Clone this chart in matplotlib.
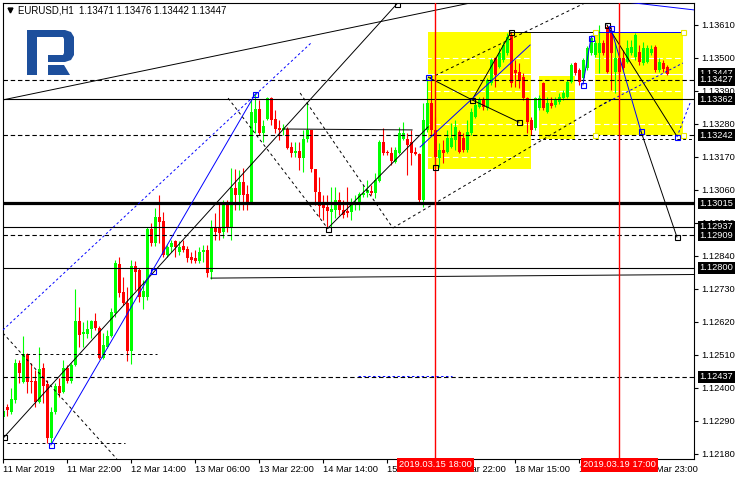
import matplotlib
matplotlib.use('Agg')
import matplotlib.pyplot as plt
import matplotlib.transforms as mtransforms
from matplotlib.patches import Rectangle, Polygon
import numpy as np

plt.rcParams['font.family'] = ['Liberation Sans', 'DejaVu Sans']
plt.rcParams['font.size'] = 6.7

# EURUSD H1 candles, bar 0 = 11 Mar 2019
opens = [1.12303, 1.12336, 1.12320, 1.12360, 1.12483, 1.12420, 1.12513, 1.12423, 1.12423, 1.12353,
         1.12466, 1.12413, 1.12233, 1.12320, 1.12406, 1.12386, 1.12466, 1.12423, 1.12476, 1.12623,
         1.12580, 1.12580, 1.12596, 1.12623, 1.12600, 1.12500, 1.12536, 1.12573, 1.12650, 1.12813,
         1.12720, 1.12683, 1.12523, 1.12806, 1.12793, 1.12703, 1.12703, 1.12930, 1.12883, 1.12970,
         1.12956, 1.12843, 1.12870, 1.12890, 1.12853, 1.12873, 1.12863, 1.12836, 1.12833, 1.12823,
         1.12853, 1.12860, 1.12786, 1.12936, 1.12936, 1.12920, 1.13016, 1.12933, 1.13066, 1.13043,
         1.13086, 1.13046, 1.13020, 1.13283, 1.13330, 1.13250, 1.13296, 1.13366, 1.13296, 1.13266,
         1.13260, 1.13263, 1.13203, 1.13183, 1.13190, 1.13166, 1.13230, 1.13260, 1.13130, 1.13053,
         1.13010, 1.13003, 1.12986, 1.12993, 1.13026, 1.12993, 1.12990, 1.12986, 1.13013, 1.13010,
         1.13043, 1.13050, 1.13056, 1.13050, 1.13090, 1.13220, 1.13186, 1.13183, 1.13153, 1.13183,
         1.13230, 1.13230, 1.13220, 1.13186, 1.13180, 1.13026, 1.13260, 1.13350, 1.13260, 1.13166,
         1.13193, 1.13186, 1.13203, 1.13226, 1.13253, 1.13233, 1.13193, 1.13250, 1.13303, 1.13336,
         1.13360, 1.13333, 1.13416, 1.13500, 1.13470, 1.13493, 1.13516, 1.13576, 1.13460, 1.13453,
         1.13436, 1.13366, 1.13293, 1.13266, 1.13333, 1.13416, 1.13320, 1.13350, 1.13343, 1.13353,
         1.13366, 1.13370, 1.13420, 1.13483, 1.13460, 1.13433, 1.13466, 1.13516, 1.13510, 1.13516,
         1.13550, 1.13603, 1.13583, 1.13453, 1.13500, 1.13500, 1.13486, 1.13516, 1.13503, 1.13520,
         1.13483, 1.13486, 1.13516, 1.13536, 1.13460, 1.13483, 1.13471]
highs = [1.12330, 1.12346, 1.12400, 1.12496, 1.12493, 1.12573, 1.12516, 1.12483, 1.12460, 1.12536,
         1.12483, 1.12426, 1.12336, 1.12416, 1.12433, 1.12493, 1.12476, 1.12483, 1.12730, 1.12670,
         1.12620, 1.12626, 1.12626, 1.12650, 1.12606, 1.12583, 1.12593, 1.12666, 1.12826, 1.12836,
         1.12770, 1.12736, 1.12826, 1.12823, 1.12800, 1.12760, 1.12936, 1.12950, 1.13000, 1.13043,
         1.12986, 1.12876, 1.12893, 1.12893, 1.12890, 1.12893, 1.12873, 1.12853, 1.12860, 1.12870,
         1.12876, 1.12876, 1.12960, 1.12983, 1.13016, 1.13026, 1.13026, 1.13133, 1.13130, 1.13126,
         1.13133, 1.13076, 1.13360, 1.13383, 1.13360, 1.13293, 1.13370, 1.13370, 1.13326, 1.13293,
         1.13280, 1.13270, 1.13220, 1.13220, 1.13220, 1.13260, 1.13353, 1.13260, 1.13130, 1.13103,
         1.13043, 1.13043, 1.13070, 1.13070, 1.13053, 1.13026, 1.13070, 1.13033, 1.13043, 1.13053,
         1.13076, 1.13093, 1.13076, 1.13116, 1.13226, 1.13266, 1.13193, 1.13203, 1.13203, 1.13270,
         1.13286, 1.13250, 1.13260, 1.13203, 1.13183, 1.13350, 1.13433, 1.13426, 1.13303, 1.13216,
         1.13226, 1.13260, 1.13283, 1.13293, 1.13260, 1.13250, 1.13293, 1.13333, 1.13360, 1.13370,
         1.13370, 1.13433, 1.13500, 1.13503, 1.13533, 1.13553, 1.13583, 1.13586, 1.13493, 1.13483,
         1.13450, 1.13370, 1.13303, 1.13370, 1.13376, 1.13420, 1.13370, 1.13370, 1.13370, 1.13383,
         1.13393, 1.13426, 1.13483, 1.13486, 1.13466, 1.13500, 1.13540, 1.13576, 1.13560, 1.13610,
         1.13560, 1.13610, 1.13603, 1.13550, 1.13526, 1.13526, 1.13560, 1.13560, 1.13583, 1.13543,
         1.13553, 1.13543, 1.13543, 1.13543, 1.13500, 1.13493, 1.13476]
lows = [1.12296, 1.12306, 1.12313, 1.12350, 1.12416, 1.12416, 1.12383, 1.12383, 1.12336, 1.12350,
        1.12350, 1.12216, 1.12216, 1.12313, 1.12370, 1.12383, 1.12416, 1.12416, 1.12473, 1.12536,
        1.12536, 1.12566, 1.12566, 1.12593, 1.12496, 1.12496, 1.12533, 1.12570, 1.12636, 1.12703,
        1.12676, 1.12490, 1.12480, 1.12726, 1.12686, 1.12663, 1.12693, 1.12873, 1.12873, 1.12883,
        1.12836, 1.12836, 1.12853, 1.12836, 1.12843, 1.12853, 1.12820, 1.12816, 1.12816, 1.12816,
        1.12820, 1.12770, 1.12763, 1.12893, 1.12893, 1.12900, 1.12920, 1.12893, 1.12993, 1.12993,
        1.12993, 1.12993, 1.13013, 1.13250, 1.13243, 1.13220, 1.13293, 1.13276, 1.13250, 1.13226,
        1.13243, 1.13196, 1.13170, 1.13170, 1.13126, 1.13120, 1.13220, 1.13120, 1.13010, 1.12970,
        1.12960, 1.12936, 1.12936, 1.12966, 1.12976, 1.12966, 1.12970, 1.12960, 1.12993, 1.12993,
        1.13036, 1.13036, 1.13043, 1.13033, 1.13086, 1.13176, 1.13176, 1.13143, 1.13150, 1.13180,
        1.13226, 1.13110, 1.13143, 1.13176, 1.13016, 1.13003, 1.13253, 1.13243, 1.13136, 1.13136,
        1.13150, 1.13183, 1.13200, 1.13193, 1.13183, 1.13186, 1.13186, 1.13243, 1.13300, 1.13333,
        1.13326, 1.13326, 1.13410, 1.13403, 1.13466, 1.13486, 1.13510, 1.13403, 1.13403, 1.13400,
        1.13360, 1.13250, 1.13243, 1.13260, 1.13326, 1.13326, 1.13316, 1.13333, 1.13336, 1.13346,
        1.13360, 1.13366, 1.13416, 1.13443, 1.13410, 1.13426, 1.13460, 1.13510, 1.13503, 1.13450,
        1.13510, 1.13450, 1.13393, 1.13383, 1.13426, 1.13460, 1.13483, 1.13510, 1.13493, 1.13476,
        1.13476, 1.13483, 1.13510, 1.13453, 1.13453, 1.13453, 1.13442]
closes = [1.12323, 1.12326, 1.12363, 1.12483, 1.12450, 1.12513, 1.12420, 1.12420, 1.12353, 1.12463,
          1.12406, 1.12233, 1.12320, 1.12406, 1.12383, 1.12466, 1.12423, 1.12476, 1.12623, 1.12576,
          1.12586, 1.12596, 1.12623, 1.12600, 1.12500, 1.12543, 1.12573, 1.12653, 1.12816, 1.12716,
          1.12683, 1.12523, 1.12806, 1.12786, 1.12703, 1.12723, 1.12930, 1.12883, 1.12970, 1.12953,
          1.12843, 1.12870, 1.12883, 1.12870, 1.12870, 1.12860, 1.12833, 1.12826, 1.12823, 1.12853,
          1.12860, 1.12783, 1.12933, 1.12920, 1.12916, 1.13016, 1.12933, 1.13066, 1.13043, 1.13086,
          1.13043, 1.13020, 1.13320, 1.13330, 1.13250, 1.13273, 1.13366, 1.13293, 1.13263, 1.13260,
          1.13266, 1.13200, 1.13183, 1.13190, 1.13166, 1.13230, 1.13260, 1.13130, 1.13053, 1.13006,
          1.13000, 1.12990, 1.12996, 1.13026, 1.12993, 1.12976, 1.12983, 1.13016, 1.13020, 1.13046,
          1.13050, 1.13060, 1.13050, 1.13093, 1.13220, 1.13183, 1.13183, 1.13156, 1.13193, 1.13250,
          1.13250, 1.13210, 1.13183, 1.13180, 1.13026, 1.13293, 1.13350, 1.13260, 1.13170, 1.13193,
          1.13183, 1.13233, 1.13233, 1.13270, 1.13186, 1.13193, 1.13253, 1.13320, 1.13343, 1.13360,
          1.13336, 1.13426, 1.13493, 1.13443, 1.13516, 1.13543, 1.13570, 1.13416, 1.13450, 1.13426,
          1.13366, 1.13286, 1.13260, 1.13366, 1.13366, 1.13333, 1.13350, 1.13340, 1.13360, 1.13370,
          1.13383, 1.13420, 1.13476, 1.13450, 1.13420, 1.13493, 1.13533, 1.13566, 1.13550, 1.13550,
          1.13516, 1.13453, 1.13516, 1.13500, 1.13453, 1.13466, 1.13533, 1.13536, 1.13576, 1.13486,
          1.13533, 1.13533, 1.13530, 1.13460, 1.13486, 1.13463, 1.13447]

xtick_bars = [0, 16, 32, 48, 64, 80, 96, 112, 128, 144, 160]
xtick_labels = ["11 Mar 2019", "11 Mar 22:00", "12 Mar 14:00", "13 Mar 06:00", "13 Mar 22:00",
                "14 Mar 14:00", "15 Mar 06:00", "15 Mar 22:00", "18 Mar 15:00", "19 Mar 07:00",
                "19 Mar 23:00"]
ytick_prices = [1.13610, 1.13500, 1.13390, 1.13280, 1.13170, 1.13060, 1.12950,
                1.12840, 1.12730, 1.12620, 1.12510, 1.12400, 1.12290, 1.12180]

# horizontal levels
solid_levels = [1.13362, 1.12937, 1.12800]
dashed_levels = [1.13427, 1.13242, 1.12909, 1.12437]
thick_level = 1.13015
bid_price = 1.13447
price_tags = [1.13447, 1.13427, 1.13362, 1.13242, 1.13015, 1.12937, 1.12909, 1.12800, 1.12437]

# vertical markers
vline_bars = [108, 154]
vline_labels = ["2019.03.15 18:00", "2019.03.19 17:00"]

# yellow zones: bar from, bar to, price top, price bottom
zone_x0 = [106.2, 133.9, 147.9]
zone_x1 = [131.9, 142.9, 169.9]
zone_top = [1.13586, 1.13440, 1.13586]
zone_bot = [1.13130, 1.13230, 1.13243]

# drawn objects: (bars, prices)
solid_black = [([-0.1, 116.7], [1.13360, 1.13683]),
               ([0.2, 98.4], [1.12236, 1.13680]),
               ([81.2, 106.2], [1.12933, 1.13270]),
               ([106.2, 117.2, 128.9], [1.13436, 1.13360, 1.13286]),
               ([117.2, 126.9], [1.13360, 1.13586]),
               ([126.9, 147.9], [1.13586, 1.13586]),
               ([150.9, 168.2], [1.13610, 1.13243]),
               ([159.4, 168.4], [1.13256, 1.12903]),
               ([70.4, 102.2], [1.13263, 1.13260]),
               ([51.9, 172.7], [1.12766, 1.12778])]
solid_blue = [([11.9, 63.0], [1.12210, 1.13380]),
              ([104.2, 131.7], [1.13203, 1.13543]),
              ([144.9, 146.9, 148.2], [1.13410, 1.13566, 1.13586]),
              ([151.9, 159.4], [1.13600, 1.13256]),
              ([147.9, 169.9], [1.13586, 1.13586]),
              ([155.9, 172.7], [1.13686, 1.13660])]
dashed_blue = [([-0.1, 77.2], [1.12593, 1.13553]),
               ([149.2, 169.9], [1.13340, 1.13483]),
               ([168.4, 171.7], [1.13236, 1.13350]),
               ([88.7, 112.2], [1.12440, 1.12440])]
dashed_black = [([-0.1, 28.4], [1.12583, 1.12163]),
                ([56.2, 81.2], [1.13366, 1.12930]),
                ([74.2, 97.4], [1.13383, 1.12933]),
                ([97.4, 151.7], [1.12933, 1.13360]),
                ([106.7, 145.4], [1.13433, 1.13683]),
                ([2.9, 38.4], [1.12513, 1.12513]),
                ([0.9, 30.4], [1.12216, 1.12216]),
                ([131.9, 172.7], [1.13230, 1.13230])]
black_points_x = [0.2, 81.2, 98.4, 107.9, 117.2, 128.9, 126.9, 150.9, 168.4]
black_points_y = [1.12236, 1.12930, 1.13680, 1.13136, 1.13360, 1.13286, 1.13586, 1.13610, 1.12903]
blue_points_x = [11.9, 37.5, 63.0, 106.2, 144.9, 146.9, 151.9, 159.4, 168.4]
blue_points_y = [1.12210, 1.12790, 1.13380, 1.13436, 1.13410, 1.13566, 1.13600, 1.13256, 1.13236]
yellow_points_x = [147.9, 169.9, 147.9, 169.9]
yellow_points_y = [1.13586, 1.13586, 1.13243, 1.13243]

fig = plt.figure(figsize=(7.4, 4.8), dpi=100)
ax = fig.add_axes([2.5 / 740, 21.5 / 480, 691.5 / 740, 456 / 480])
ax.set_xlim(-0.2, 172.675)
ax.set_ylim(1.121647, 1.136847)

for x0, x1, top, bot in zip(zone_x0, zone_x1, zone_top, zone_bot):
    ax.add_patch(Rectangle((x0, bot), x1 - x0, top - bot, fc='#ffff00', ec='none', zorder=0.5))

ax.hlines(ytick_prices, -1, 175, colors='white', linestyles=(0, (5, 3)), lw=0.8, zorder=0.8)
ax.axhline(bid_price, color='white', lw=0.8, zorder=0.9)

x = np.arange(len(opens))
o = np.array(opens)
h = np.array(highs)
l = np.array(lows)
c = np.array(closes)
col = np.where(c >= o, '#00ff00', '#ff0000')
ax.vlines(x, l, h, colors=col, lw=0.8, zorder=2)
ax.bar(x, np.maximum(np.abs(c - o), 0.00003), bottom=np.minimum(o, c), width=0.72,
       color=col, lw=0, zorder=2.1)

for lvl in solid_levels:
    ax.axhline(lvl, color='black', lw=0.8, zorder=3)
for lvl in dashed_levels:
    ax.axhline(lvl, color='black', lw=0.8, ls=(0, (4, 2.5)), zorder=3)
ax.axhline(thick_level, color='black', lw=2.3, zorder=3)

for xs, ys in solid_black:
    ax.plot(xs, ys, color='black', lw=0.7, zorder=3)
for xs, ys in solid_blue:
    ax.plot(xs, ys, color='#0000ff', lw=0.7, zorder=3)
for xs, ys in dashed_blue:
    ax.plot(xs, ys, color='#0000ff', lw=0.7, ls=(0, (2.5, 2.5)), zorder=3)
for xs, ys in dashed_black:
    ax.plot(xs, ys, color='black', lw=0.7, ls=(0, (3, 3)), zorder=3)

ax.plot(black_points_x, black_points_y, 's', ms=3.6, mfc='none', mec='black', mew=0.8, zorder=4)
ax.plot(blue_points_x, blue_points_y, 's', ms=3.6, mfc='none', mec='#0000ff', mew=0.8, zorder=4)
ax.plot(yellow_points_x, yellow_points_y, 's', ms=3.6, mfc='white', mec='#e8e800', mew=0.8, zorder=4)

for b in vline_bars:
    ax.axvline(b, color='#ff0000', lw=1.0, zorder=3.5)

# axes look
for sp in ax.spines.values():
    sp.set_color('black')
    sp.set_linewidth(0.8)
ax.yaxis.tick_right()
ax.set_yticks(ytick_prices)
ax.set_yticklabels(['%.5f' % p for p in ytick_prices])
ax.tick_params(axis='y', length=3, width=0.8, pad=2, labelsize=6.7)
ax.set_xticks(xtick_bars)
ax.set_xticklabels(xtick_labels)
ax.tick_params(axis='x', length=3, width=0.8, pad=1.5, labelsize=6.7)
for lbl in ax.get_xticklabels():
    lbl.set_ha('left')

ytrans = mtransforms.blended_transform_factory(ax.transAxes, ax.transData)
for i, p in enumerate(price_tags):
    ax.text(1.008, p, '%.5f' % p, transform=ytrans, color='white', ha='left', va='center',
            fontsize=6.7, clip_on=False, zorder=6 + i,
            bbox=dict(boxstyle='square,pad=0.15', fc='black', ec='none'))

xtrans = mtransforms.blended_transform_factory(ax.transData, ax.transAxes)
for b, txt in zip(vline_bars, vline_labels):
    ax.text(b, -0.004, txt, transform=xtrans, color='white', ha='center', va='top',
            fontsize=6.7, clip_on=False, zorder=20,
            bbox=dict(boxstyle='square,pad=0.25', fc='#ff0000', ec='none'))

# overlay in pixel units for header and logo
ov = fig.add_axes([0, 0, 1, 1], zorder=30)
ov.set_xlim(0, 740)
ov.set_ylim(480, 0)
ov.axis('off')
ov.patch.set_visible(False)
ov.plot([10], [10], marker='v', ms=3.5, color='black')
ov.text(18, 10.5, 'EURUSD,H1  1.13471 1.13476 1.13442 1.13447', va='center', ha='left',
        fontsize=6.9, color='black')
logo_col = '#1d4f9c'
ov.add_patch(Rectangle((27, 30), 10, 45, fc=logo_col, ec='none'))
ov.add_patch(Polygon([(37, 30), (65, 30), (71, 32), (74, 37), (74, 55), (71, 60), (65, 62),
                      (48, 62), (48, 55), (63, 55), (64, 53), (64, 39), (63, 37), (37, 37)],
                     closed=True, fc=logo_col, ec='none'))
ov.add_patch(Polygon([(48, 65), (64, 65), (70, 75), (48, 75)], closed=True, fc=logo_col, ec='none'))

fig.savefig('out.png', dpi=100)
